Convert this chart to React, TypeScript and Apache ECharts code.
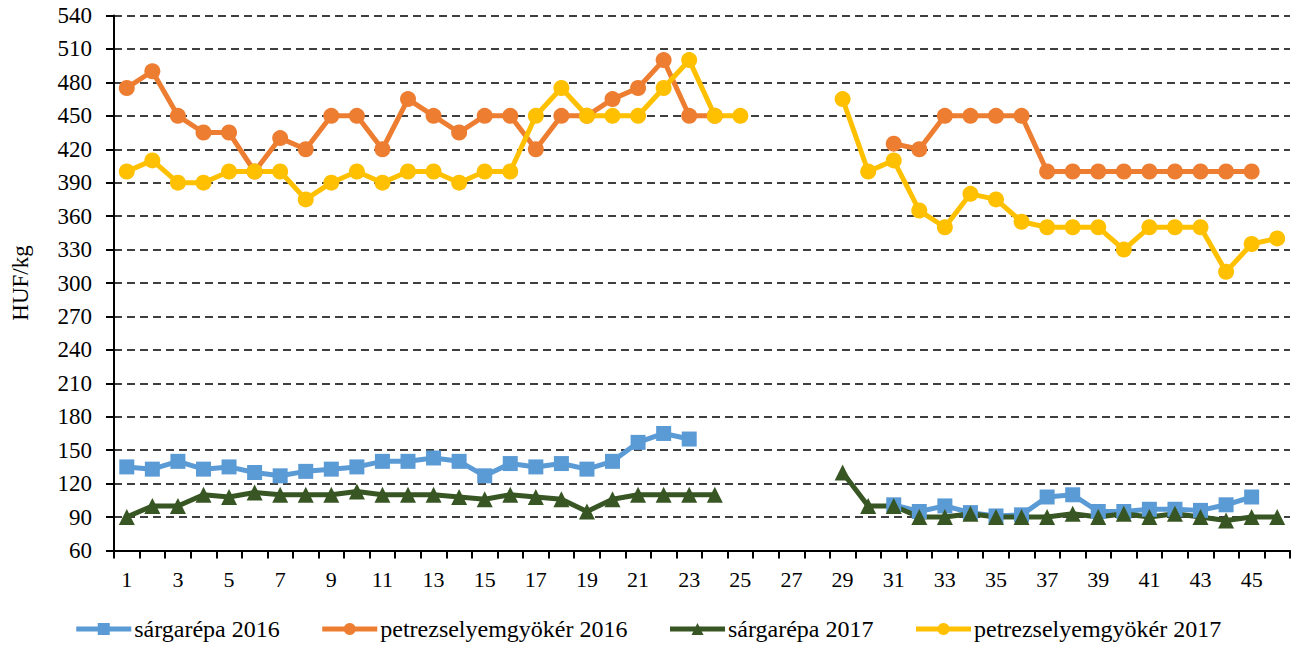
import React, { useEffect, useRef } from "react";
import * as echarts from "echarts";

const categories: string[] = Array.from({ length: 46 }, (_, i) => String(i + 1));

const sargarepa2016: (number | null)[] = [
  135, 133, 140, 133, 135, 130, 127, 131, 133, 135, 140, 140, 143, 140, 127, 138, 135, 138, 133, 140, 157, 165, 160,
  null, null, null, null, null, null, null,
  101, 95, 100, 94, 91, 92, 108, 110, 95, 95, 97, 97, 96, 101, 108,
  null,
];

const petrezselyem2016: (number | null)[] = [
  475, 490, 450, 435, 435, 400, 430, 420, 450, 450, 420, 465, 450, 435, 450, 450, 420, 450, 450, 465, 475, 500, 450, 450,
  null, null, null, null, null, null,
  425, 420, 450, 450, 450, 450, 400, 400, 400, 400, 400, 400, 400, 400, 400,
  null,
];

const sargarepa2017: (number | null)[] = [
  90, 100, 100, 110, 108, 112, 110, 110, 110, 113, 110, 110, 110, 108, 106, 110, 108, 106, 95, 106, 110, 110, 110, 110,
  null, null, null, null,
  130, 100, 100, 90, 90, 93, 90, 90, 90, 93, 90, 93, 90, 93, 90, 87, 90, 90,
];

const petrezselyem2017: (number | null)[] = [
  400, 410, 390, 390, 400, 400, 400, 375, 390, 400, 390, 400, 400, 390, 400, 400, 450, 475, 450, 450, 450, 475, 500, 450, 450,
  null, null, null,
  465, 400, 410, 365, 350, 380, 375, 355, 350, 350, 350, 330, 350, 350, 350, 310, 335, 340,
];

const seriesNames = [
  "sárgarépa 2016",
  "petrezselyemgyökér 2016",
  "sárgarépa 2017",
  "petrezselyemgyökér 2017",
];

const colors = ["#5B9BD5", "#ED7D31", "#375623", "#FFC000"];
const symbols = ["rect", "circle", "triangle", "circle"];

const FONT = "'Liberation Serif', 'Times New Roman', serif";

export default function App() {
  const ref = useRef<HTMLDivElement>(null);

  useEffect(() => {
    if (!ref.current) return;
    const chart = echarts.init(ref.current, null, { renderer: "svg" });

    const mk = (
      name: string,
      data: (number | null)[],
      color: string,
      symbol: string,
      symbolSize: number
    ) => ({
      name,
      type: "line",
      data,
      connectNulls: false,
      symbol,
      symbolSize,
      showSymbol: true,
      lineStyle: { color, width: 5 },
      itemStyle: { color, borderWidth: 0 },
    });

    chart.setOption({
      animation: false,
      backgroundColor: "#ffffff",
      textStyle: { fontFamily: FONT },
      grid: { left: 114, right: 5, top: 15.5, bottom: 95.5, containLabel: false },
      legend: {
        bottom: 0,
        left: "center",
        itemWidth: 55,
        itemHeight: 15,
        itemGap: 40,
        textStyle: { fontFamily: FONT, fontSize: 24, color: "#000", padding: [0, 0, 0, -2] },
        lineStyle: { width: 5 },
        data: seriesNames,
      },
      xAxis: {
        type: "category",
        data: categories,
        boundaryGap: true,
        axisLine: { lineStyle: { color: "#000", width: 2 } },
        axisTick: { show: true, length: 8, lineStyle: { color: "#000", width: 2 }, interval: 0 },
        axisLabel: { interval: 1, margin: 18, fontSize: 22, color: "#000", fontFamily: FONT },
        splitLine: { show: false },
      },
      yAxis: {
        type: "value",
        min: 60,
        max: 540,
        interval: 30,
        name: "HUF/kg",
        nameLocation: "middle",
        nameGap: 82,
        nameTextStyle: { fontFamily: FONT, fontSize: 23, color: "#000" },
        axisLine: { show: true, lineStyle: { color: "#000", width: 2 } },
        axisTick: { show: true, length: 8, lineStyle: { color: "#000", width: 2 } },
        axisLabel: { margin: 22, fontSize: 23, color: "#000", fontFamily: FONT },
        splitLine: { show: true, lineStyle: { color: "#000", width: 1.5, type: [8, 5] } },
      },
      series: [
        mk(seriesNames[0], sargarepa2016, colors[0], symbols[0], 15),
        mk(seriesNames[1], petrezselyem2016, colors[1], symbols[1], 16),
        mk(seriesNames[2], sargarepa2017, colors[2], symbols[2], 16),
        mk(seriesNames[3], petrezselyem2017, colors[3], symbols[3], 16),
      ],
    });

    return () => chart.dispose();
  }, []);

  return (
    <div
      ref={ref}
      style={{ position: "fixed", left: 0, top: 0, width: 1295, height: 646, background: "#fff" }}
    />
  );
}
